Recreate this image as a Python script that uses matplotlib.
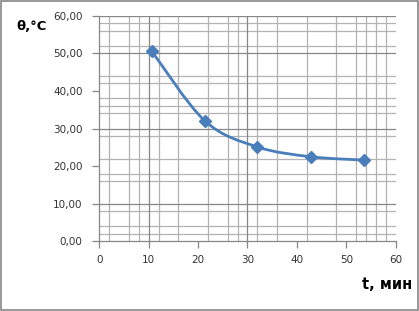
import numpy as np
import matplotlib
matplotlib.use('Agg')
import matplotlib.pyplot as plt
from matplotlib.path import Path
from matplotlib.patches import PathPatch, Rectangle

# data
t_min = [10.6, 21.4, 32.0, 42.8, 53.6]
theta_c = [50.6, 32.0, 25.1, 22.5, 21.6]

x_ticks = [0, 10, 20, 30, 40, 50, 60]
y_ticks = [0, 10, 20, 30, 40, 50, 60]
# gridlines as they show up in the (downscaled) picture
x_major_grid = [10, 30]
x_minor_grid = [2, 6, 8, 12, 16, 22, 26, 28, 32, 36, 42, 48, 52, 54, 56, 58]
y_major_grid = [10, 30, 50, 60]
y_minor_grid = [2, 4, 8, 16, 18, 22, 28, 34, 36, 38, 42, 44, 52, 56, 58]

blue = '#4a7ebb'

fig = plt.figure(figsize=(4.19, 3.11), dpi=100)
fig.patches.append(Rectangle((0.002, 0.004), 0.995, 0.992, transform=fig.transFigure,
                             fill=False, edgecolor='#868686', linewidth=1.2))

ax = fig.add_axes([0.237, 0.2241, 0.7073, 0.7254])
ax.set_xlim(0, 60)
ax.set_ylim(0, 60)

for v in x_minor_grid:
    ax.axvline(v, color='#b3b3b3', lw=0.9, zorder=1)
for v in y_minor_grid:
    ax.axhline(v, color='#b3b3b3', lw=0.9, zorder=1)
for v in x_major_grid:
    ax.axvline(v, color='#878787', lw=0.9, zorder=1.5)
for v in y_major_grid:
    ax.axhline(v, color='#878787', lw=0.9, zorder=1.5)

# smoothed line (Excel-like bezier through the points)
pts = np.column_stack([t_min, theta_c])
verts = [tuple(pts[0])]
codes = [Path.MOVETO]
n = len(pts)
for i in range(n - 1):
    p0 = pts[max(i - 1, 0)]
    p1 = pts[i]
    p2 = pts[i + 1]
    p3 = pts[min(i + 2, n - 1)]
    c1 = p1 + (p2 - p0) / 6
    c2 = p2 - (p3 - p1) / 6
    verts += [tuple(c1), tuple(c2), tuple(p2)]
    codes += [Path.CURVE4] * 3
ax.add_patch(PathPatch(Path(verts, codes), fill=False, edgecolor=blue, lw=2.0, zorder=3))
ax.plot(t_min, theta_c, linestyle='none', marker='D', ms=6.5, color=blue, zorder=4)

for s in ['top', 'right']:
    ax.spines[s].set_visible(False)
for s in ['left', 'bottom']:
    ax.spines[s].set_color('#878787')
    ax.spines[s].set_linewidth(0.9)

ax.set_xticks(x_ticks)
ax.set_yticks(y_ticks)
ax.set_xticklabels([str(v) for v in x_ticks])
ax.set_yticklabels(['%d,00' % v for v in y_ticks])
ax.tick_params(axis='both', direction='out', length=5, width=0.9, color='#878787',
               labelsize=7.5, labelcolor='#333333')
ax.tick_params(axis='x', pad=5)
ax.tick_params(axis='y', pad=7)

fig.text(0.038, 0.915, 'θ,°C', fontsize=9.5, fontweight='bold', ha='left', va='center')
fig.text(0.985, 0.085, 't, мин', fontsize=10.5, fontweight='bold', ha='right', va='center')

fig.savefig('out.png', dpi=100)
